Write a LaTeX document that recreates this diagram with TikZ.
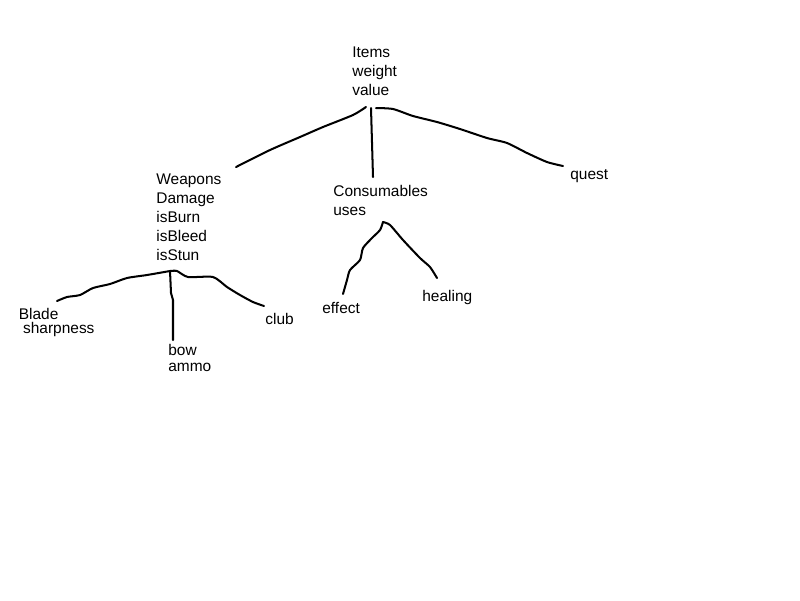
\documentclass[tikz,border=0pt]{standalone}
\usepackage{fontspec}
\setmainfont{Liberation Sans}
\begin{document}
\begin{tikzpicture}[x=0.02cm, y=-0.02cm,
		txt/.style={anchor=base west, inner sep=0pt, align=left, font=\fontsize{8.8}{10.8}\selectfont},
		hand/.style={line width=1.15pt, line cap=round, line join=round}]
		\useasboundingbox (0, 0) rectangle (800, 600);
		% labels (base = last line)
		\node[txt] (items) at (352, 95) {Items \\ weight \\ value};
		\node[txt] (weapons) at (156, 260.5) {Weapons \\ Damage \\ isBurn \\ isBleed \\ isStun};
		\node[txt, font=\fontsize{8.8}{10.5}\selectfont] (consumables) at (333, 215.2) {Consumables \\ uses};
		\node[txt] (quest) at (570, 179) {quest};
		\node[txt, font=\fontsize{8.8}{7.9}\selectfont] (blade) at (18.5, 333) {Blade \\\ sharpness};
		\node[txt, font=\fontsize{8.8}{9.1}\selectfont] (bow) at (168, 371.7) {bow \\ ammo};
		\node[txt] (club) at (265, 324) {club};
		\node[txt] (effect) at (322, 313) {effect};
		\node[txt] (healing) at (422, 301.7) {healing};
		% line ends
		\coordinate (itL) at (366, 107);
		\coordinate (itM) at (371, 108);
		\coordinate (itR) at (376, 108);
		\coordinate (weaponsIn) at (236, 167);
		\coordinate (consIn) at (373, 177);
		\coordinate (questIn) at (563, 166);
		\coordinate (wJ) at (170, 271);
		\coordinate (bladeIn) at (57, 301);
		\coordinate (bowIn) at (173, 340);
		\coordinate (clubIn) at (264, 306);
		\coordinate (cJ) at (383, 222);
		\coordinate (effectIn) at (343, 294);
		\coordinate (healingIn) at (437, 278);
		% items
		\draw[hand] plot[smooth, tension=0.4] coordinates {(itL) (353, 115) (323, 127) (300, 137) (270, 150) (weaponsIn)};
		\draw[hand] (itM) -- (consIn);
		\draw[hand] plot[smooth, tension=0.4] coordinates {(itR) (393, 109) (413, 116) (437, 122) (460, 129) (487, 138) (507, 143) (527, 153) (547, 162) (questIn)};
		% weapons
		\draw[hand] plot[smooth, tension=0.4] coordinates {(wJ) (147, 275) (127, 278) (110, 284) (93, 288) (80, 295) (67, 297) (bladeIn)};
		\draw[hand] (wJ) -- (171, 293) -- (173, 300) -- (bowIn);
		\draw[hand] plot[smooth, tension=0.4] coordinates {(wJ) (177, 271) (188, 277) (213, 277) (227, 287) (240, 295) (253, 302) (clubIn)};
		% consumables
		\draw[hand] plot[smooth, tension=0.4] coordinates {(cJ) (380, 230) (372, 238) (363, 248) (360, 260) (350, 270) (347, 280) (effectIn)};
		\draw[hand] plot[smooth, tension=0.4] coordinates {(cJ) (390, 225) (403, 240) (420, 258) (430, 267) (healingIn)};
	\end{tikzpicture}
\end{document}
